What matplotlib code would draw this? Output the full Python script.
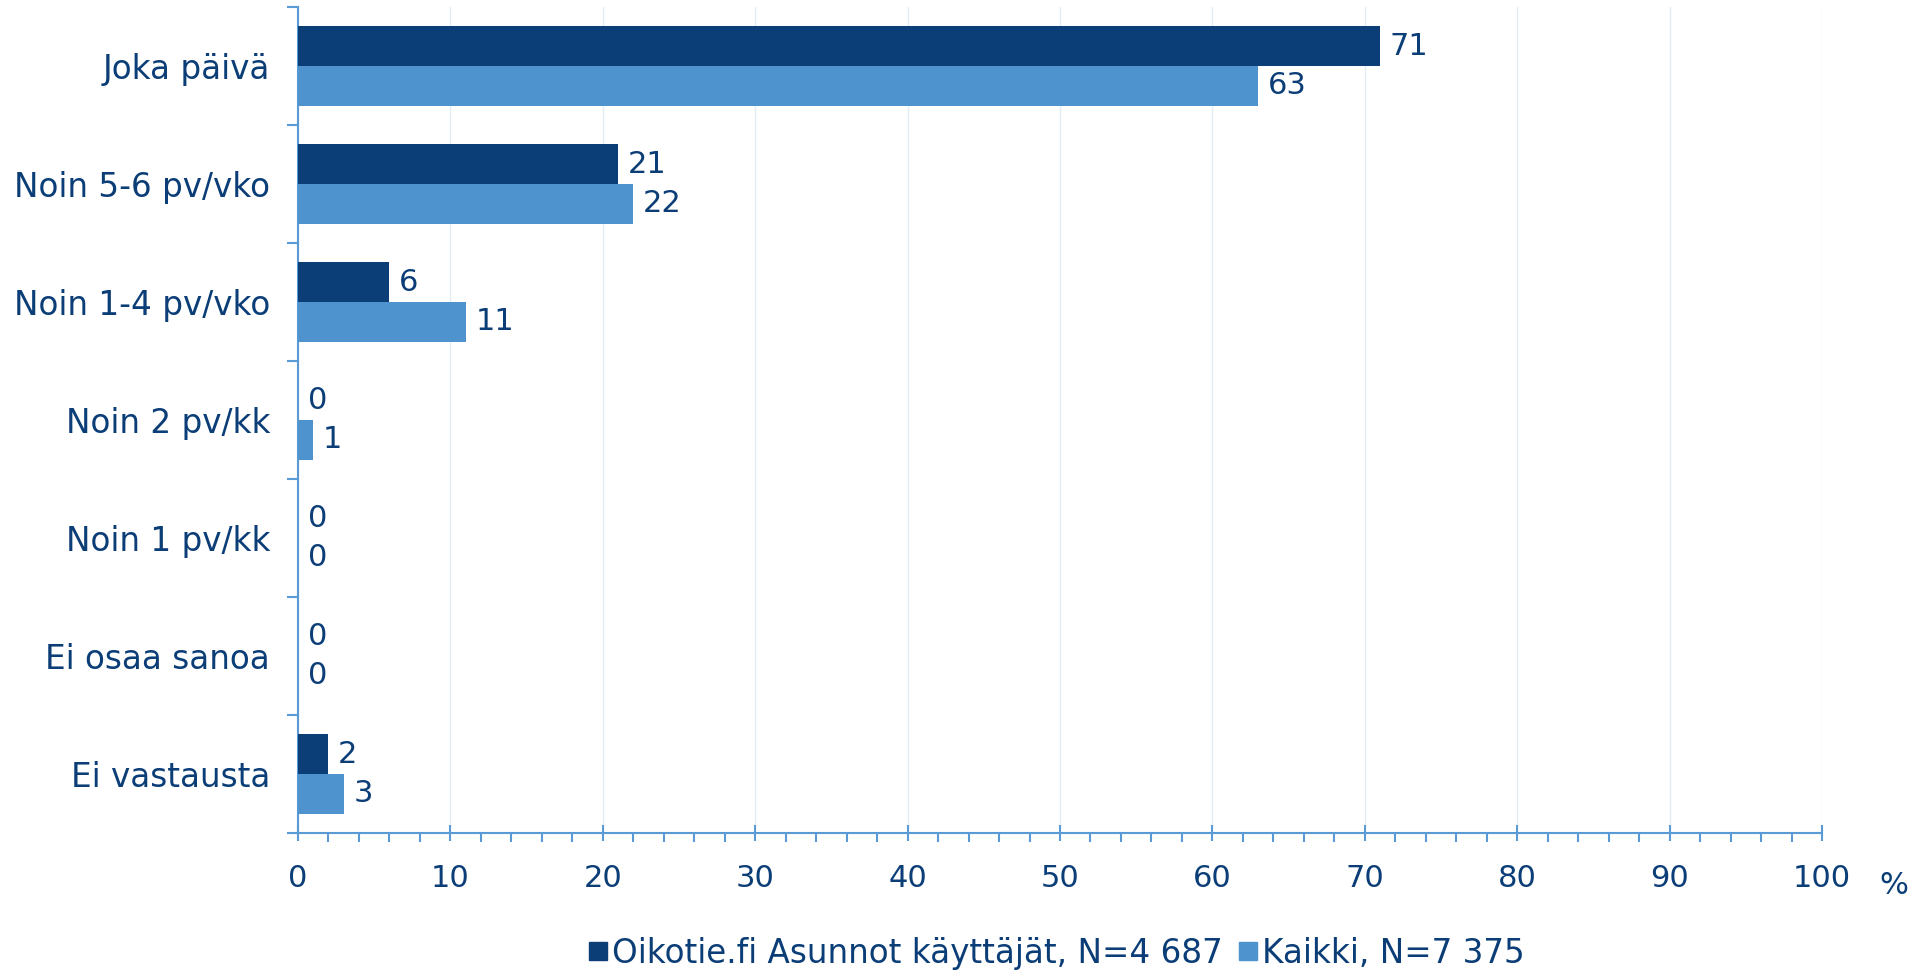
import matplotlib
matplotlib.use("Agg")
import matplotlib.pyplot as plt
from matplotlib.lines import Line2D
import numpy as np

categories = ["Joka päivä", "Noin 5-6 pv/vko", "Noin 1-4 pv/vko", "Noin 2 pv/kk",
              "Noin 1 pv/kk", "Ei osaa sanoa", "Ei vastausta"]
oikotie = [71, 21, 6, 0, 0, 0, 2]
kaikki = [63, 22, 11, 1, 0, 0, 3]
series_names = ["Oikotie.fi Asunnot käyttäjät, N=4 687", "Kaikki, N=7 375"]
x_ticks = [0, 10, 20, 30, 40, 50, 60, 70, 80, 90, 100]

DARK = "#0B3D77"
LIGHT = "#4F93CE"
TEXT = "#0B3D77"
SPINE = "#5A9BD5"
GRID = "#E2ECF6"
FS = 22
FS_CAT = 23.5

plt.rcParams['font.family'] = ['DejaVu Sans']
fig = plt.figure(figsize=(19.31, 9.71), dpi=100)
ax = fig.add_axes([298/1931, 138/971, (1822-298)/1931, (833-7)/971])

n = len(categories)
y = np.arange(n)
h = 0.335
b1 = ax.barh(y - h/2, oikotie, height=h, color=DARK, zorder=3)
b2 = ax.barh(y + h/2, kaikki, height=h, color=LIGHT, zorder=3)

for bars, vals in ((b1, oikotie), (b2, kaikki)):
    for rect, v in zip(bars, vals):
        ax.annotate(f"{v}", (rect.get_width(), rect.get_y() + rect.get_height()/2),
                    xytext=(7, 0), textcoords="offset points", ha="left", va="center",
                    fontsize=FS, color=TEXT, zorder=4)

ax.set_xlim(0, 100)
ax.set_ylim(n - 0.5, -0.5)

ax.set_xticks(x_ticks)
ax.set_xticks(np.arange(0, 101, 2), minor=True)
ax.set_xticklabels([str(t) for t in x_ticks])
ax.tick_params(axis="x", which="major", direction="inout", length=12, width=1.5,
               color=SPINE, labelsize=FS, labelcolor=TEXT, pad=16)
ax.tick_params(axis="x", which="minor", direction="out", length=6.5, width=1.5, color=SPINE)

ax.set_yticks(np.arange(-0.5, n, 1.0))
ax.set_yticklabels([])
ax.tick_params(axis="y", which="major", direction="out", length=8, width=1.5, color=SPINE)
ax.set_yticks(y, minor=True)
ax.set_yticklabels(categories, minor=True)
ax.tick_params(axis="y", which="minor", length=0, labelsize=FS_CAT, labelcolor=TEXT, pad=20)

ax.grid(axis="x", which="major", color=GRID, linewidth=1.0, zorder=0)
for s in ("top", "right"):
    ax.spines[s].set_visible(False)
for s in ("left", "bottom"):
    ax.spines[s].set_color(SPINE)
    ax.spines[s].set_linewidth(1.5)

fig.text(1894/1931, 1 - 885/971, "%", fontsize=FS, color=TEXT, ha="center", va="center")

handles = [Line2D([], [], marker="s", linestyle="none", markersize=12.5, color=c)
           for c in (DARK, LIGHT)]
fig.legend(handles, series_names, loc="center", bbox_to_anchor=(0.5465, 1 - 953/971),
           ncol=2, frameon=False, fontsize=FS_CAT, labelcolor=TEXT,
           handletextpad=0.05, columnspacing=0.4, handlelength=0.75)

fig.savefig("out.png", dpi=100)
